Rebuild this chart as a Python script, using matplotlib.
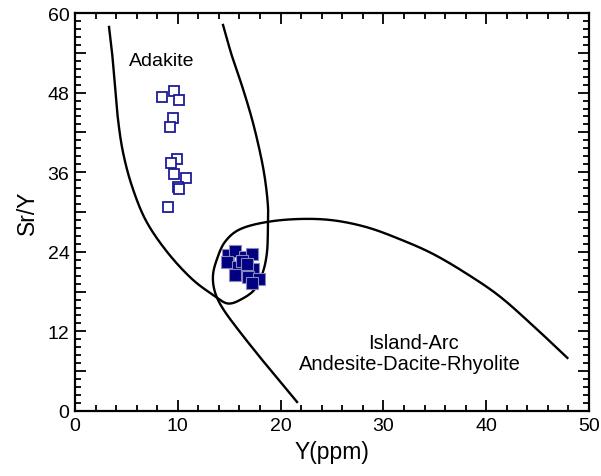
import numpy as np
import matplotlib
matplotlib.use('Agg')
import matplotlib.pyplot as plt
from matplotlib.ticker import MultipleLocator, FuncFormatter

plt.rcParams['font.family'] = ['Liberation Sans', 'DejaVu Sans']

# Adakite samples (open squares)
adk_y = [8.46, 9.66, 10.12, 9.50, 9.24, 9.95, 9.34, 9.66, 10.77, 9.99, 10.07, 9.08]
adk_sry = [47.3, 48.3, 46.9, 44.1, 42.8, 38.0, 37.4, 35.7, 35.2, 33.7, 33.5, 30.7]

# second group (filled squares)
grp_y = [14.88, 15.56, 16.54, 17.22, 14.79, 15.86, 17.32, 15.56, 16.83, 17.90, 17.22, 16.25, 16.73]
grp_sry = [23.5, 24.1, 23.2, 23.7, 22.5, 21.7, 21.4, 20.5, 20.2, 19.9, 19.3, 22.6, 22.2]

# field boundaries
adakite_x = [3.31, 3.60, 3.89, 4.18, 4.67, 5.54, 6.9, 8.95, 11.38, 13.62, 14.9,
             16.25, 17.51, 18.29, 18.68, 18.77, 18.77, 18.48, 18.0, 17.22, 16.25, 15.27, 14.40]
adakite_yv = [57.9, 54.1, 49.0, 44.0, 39.0, 33.9, 28.7, 24.0, 19.9, 17.3, 16.2,
              16.9, 18.4, 21.0, 24.0, 27.9, 30.9, 35.0, 39.0, 44.0, 49.0, 53.5, 58.2]
arc_x = [21.6, 18.68, 16.05, 14.40, 13.62, 13.42, 13.81, 14.59, 16.05, 18.68, 21.9,
         25.1, 28.4, 31.6, 34.8, 38.1, 41.3, 44.6, 47.9]
arc_yv = [1.36, 6.8, 11.9, 15.4, 17.9, 20.4, 22.9, 25.5, 27.4, 28.5, 28.95,
          28.75, 27.7, 25.9, 23.7, 20.7, 17.3, 12.8, 8.0]


def smooth(xs, ys, n=20):
    # catmull-rom through the read points, in axis-scaled space
    p = np.column_stack([np.array(xs) / 50.0, np.array(ys) / 60.0 * 0.775])
    p = np.vstack([2 * p[0] - p[1], p, 2 * p[-1] - p[-2]])
    out = []
    t = np.linspace(0, 1, n, endpoint=False)[:, None]
    for i in range(1, len(p) - 2):
        p0, p1, p2, p3 = p[i - 1], p[i], p[i + 1], p[i + 2]
        seg = 0.5 * ((2 * p1) + (-p0 + p2) * t + (2 * p0 - 5 * p1 + 4 * p2 - p3) * t ** 2
                     + (-p0 + 3 * p1 - 3 * p2 + p3) * t ** 3)
        out.append(seg)
    out.append(p[-2][None, :])
    out = np.vstack(out)
    return out[:, 0] * 50.0, out[:, 1] / 0.775 * 60.0


fig = plt.figure(figsize=(6.01, 4.77), dpi=100)
ax = fig.add_axes([0.1248, 0.1363, 0.8552, 0.8343])

sx, sy = smooth(adakite_x, adakite_yv)
ax.plot(sx, sy, color='black', lw=1.7)
sx, sy = smooth(arc_x, arc_yv)
ax.plot(sx, sy, color='black', lw=1.7)

ax.plot(adk_y, adk_sry, 's', ms=7.5, mfc='white', mec='#1c1c96', mew=1.3, linestyle='none')
ax.plot(grp_y, grp_sry, 's', ms=8, mfc='#000080', mec='#8888bb', mew=0.8, linestyle='none')

ax.text(8.4, 52.9, 'Adakite', fontsize=14, ha='center', va='center')
ax.text(32.9, 10.4, 'Island-Arc', fontsize=14.5, ha='center', va='center')
ax.text(32.6, 7.2, 'Andesite-Dacite-Rhyolite', fontsize=14.5, ha='center', va='center')

ax.set_xlim(0, 50)
ax.set_ylim(0, 60)
ax.xaxis.set_major_locator(MultipleLocator(10))
ax.xaxis.set_minor_locator(MultipleLocator(2))
ax.yaxis.set_major_locator(MultipleLocator(6))
ax.yaxis.set_minor_locator(MultipleLocator(1.2))
ax.yaxis.set_major_formatter(FuncFormatter(lambda v, p: '%d' % v if round(v) % 12 == 0 else ''))

ax.tick_params(which='both', direction='in', top=True, right=True, labelsize=14, width=1.3, pad=4)
ax.tick_params(which='major', length=8)
ax.tick_params(which='minor', length=4.5)
for sp in ax.spines.values():
    sp.set_linewidth(1.6)

ax.set_xlabel('Y(ppm)', fontsize=16.5, labelpad=5)
ax.set_ylabel('Sr/Y', fontsize=16.5, labelpad=6)

fig.savefig('out.png', dpi=100)
